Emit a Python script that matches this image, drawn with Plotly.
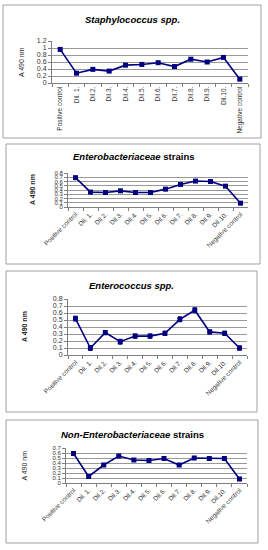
import plotly.graph_objects as go

W, H = 268, 550

categories = ["Positive control", "Dil. 1.", "Dil.2.", "Dil.3.", "Dil.4.", "Dil.5.",
              "Dil.6.", "Dil.7.", "Dil.8.", "Dil.9.", "Dil.10.", "Negative control"]

staph_vals = [0.96, 0.28, 0.39, 0.34, 0.51, 0.53, 0.58, 0.47, 0.68, 0.60, 0.73, 0.11]
staph_err = [0.04, 0.03, 0.03, 0.03, 0.03, 0.03, 0.03, 0.03, 0.03, 0.03, 0.03, 0.03]

entb_vals = [0.69, 0.35, 0.34, 0.38, 0.34, 0.34, 0.42, 0.53, 0.61, 0.60, 0.49, 0.09]
entb_err = [0.02] * 12

entc_vals = [0.52, 0.10, 0.32, 0.19, 0.27, 0.27, 0.31, 0.51, 0.64, 0.33, 0.31, 0.10]
entc_err = [0.035, 0.035, 0.03, 0.035, 0.03, 0.03, 0.03, 0.035, 0.035, 0.03, 0.03, 0.03]

nonent_vals = [0.59, 0.13, 0.36, 0.54, 0.46, 0.45, 0.49, 0.36, 0.50, 0.49, 0.49, 0.08]
nonent_err = [0.02] * 12

titles = ["<b><i>Staphylococcus spp.</i></b>",
          "<b><i>Enterobacteriaceae</i> strains</b>",
          "<b><i>Enterococcus spp.</i></b>",
          "<b><i>Non-Enterobacteriaceae</i> strains</b>"]
ytitles = ["A 490 nm", "<b>A 490 nm</b>", "<b>A 490 nm</b>", "A 490 nm"]

y_ticks = [[0, 0.2, 0.4, 0.6, 0.8, 1, 1.2],
           [0, 0.1, 0.2, 0.3, 0.4, 0.5, 0.6, 0.7, 0.8],
           [0, 0.1, 0.2, 0.3, 0.4, 0.5, 0.6, 0.7, 0.8],
           [0, 0.1, 0.2, 0.3, 0.4, 0.5, 0.6, 0.7]]
y_ticktext = [["0", "0.2", "0.4", "0.6", "0.8", "1", "1.2"],
              ["0", "0.1", "0.2", "0.3", "0.4", "0.5", "0.6", "0.7", "0.8"],
              ["0", "0.1", "0.2", "0.3", "0.4", "0.5", "0.6", "0.7", "0.8"],
              ["0", "0.1", "0.2", "0.3", "0.4", "0.5", "0.6", "0.7"]]

series = [(staph_vals, staph_err), (entb_vals, entb_err), (entc_vals, entc_err), (nonent_vals, nonent_err)]

# layout geometry in pixels
boxes = [(3, 5, 261, 138), (6, 144, 260, 264), (6, 271, 257, 412), (6, 420, 258, 543)]
plots = [  # x0, x1, y_zero_px, y_top_px, ymax
    (52, 248, 83, 41, 1.2),
    (68, 248, 207, 173, 0.8),
    (68, 247, 355, 299, 0.8),
    (66, 247, 483, 448, 0.7),
]
title_y = [19, 157, 285, 434]
ytitle_x = [21, 32, 24, 24]
tickangles = [-90, -45, -45, -45]
ytick_size = [7, 6, 7, 6]

FONT = "Arial, Liberation Sans, sans-serif"
NAVY = "#000080"

fig = go.Figure()
layout = dict(width=W, height=H, margin=dict(l=0, r=0, t=0, b=0, autoexpand=False),
              paper_bgcolor="white", plot_bgcolor="white", showlegend=False,
              font=dict(family=FONT, size=7, color="#222"))
shapes, annotations = [], []

for i, ((vals, err), (x0, x1, yz, yt, ymax)) in enumerate(zip(series, plots)):
    n = "" if i == 0 else str(i + 1)
    fig.add_trace(go.Scatter(
        x=categories, y=vals, mode="lines+markers",
        line=dict(color=NAVY, width=1.6),
        marker=dict(symbol="square", size=5, color=NAVY),
        error_y=dict(type="data", array=err, visible=True, color=NAVY, thickness=1, width=2),
        xaxis="x" + n, yaxis="y" + n, cliponaxis=False))
    layout["xaxis" + n] = dict(
        domain=[x0 / W, x1 / W], anchor="y" + n, type="category", automargin=False,
        tickson="boundaries", ticks="outside", ticklen=3, tickcolor="#808080",
        showline=True, linecolor="#808080", linewidth=1, showgrid=False,
        tickangle=tickangles[i], tickfont=dict(size=6.5, family=FONT, color="#333333"),
        range=[-0.5, 11.5], fixedrange=True)
    layout["yaxis" + n] = dict(
        domain=[1 - yz / H, 1 - yt / H], anchor="x" + n, range=[0, ymax], automargin=False,
        tickvals=y_ticks[i], ticktext=y_ticktext[i], ticks="outside", ticklen=3,
        tickcolor="#808080", showline=True, linecolor="#808080", linewidth=1,
        showgrid=True, gridcolor="#999999", gridwidth=1, zeroline=False,
        tickfont=dict(size=ytick_size[i], family=FONT, color="#333333"), fixedrange=True)
    bx0, by0, bx1, by1 = boxes[i]
    shapes.append(dict(type="rect", xref="paper", yref="paper",
                       x0=bx0 / W, x1=bx1 / W, y0=1 - by1 / H, y1=1 - by0 / H,
                       line=dict(color="#a0a0a0", width=1), fillcolor="rgba(0,0,0,0)"))
    annotations.append(dict(text=titles[i], xref="paper", yref="paper",
                            x=((bx0 + bx1) / 2) / W, y=1 - title_y[i] / H,
                            showarrow=False, font=dict(size=9.5, family=FONT, color="#000"),
                            xanchor="center", yanchor="middle"))
    annotations.append(dict(text=ytitles[i], xref="paper", yref="paper",
                            x=ytitle_x[i] / W, y=1 - ((yz + yt) / 2) / H, textangle=-90,
                            showarrow=False, font=dict(size=7, family=FONT, color="#222"),
                            xanchor="center", yanchor="middle"))

layout["shapes"] = shapes
layout["annotations"] = annotations
fig.update_layout(**layout)
fig.write_html("out.html",
               config={"displayModeBar": False, "staticPlot": True},
               post_script="document.body.style.margin='0';document.body.style.padding='0';"
                           "document.body.style.overflow='hidden';")
